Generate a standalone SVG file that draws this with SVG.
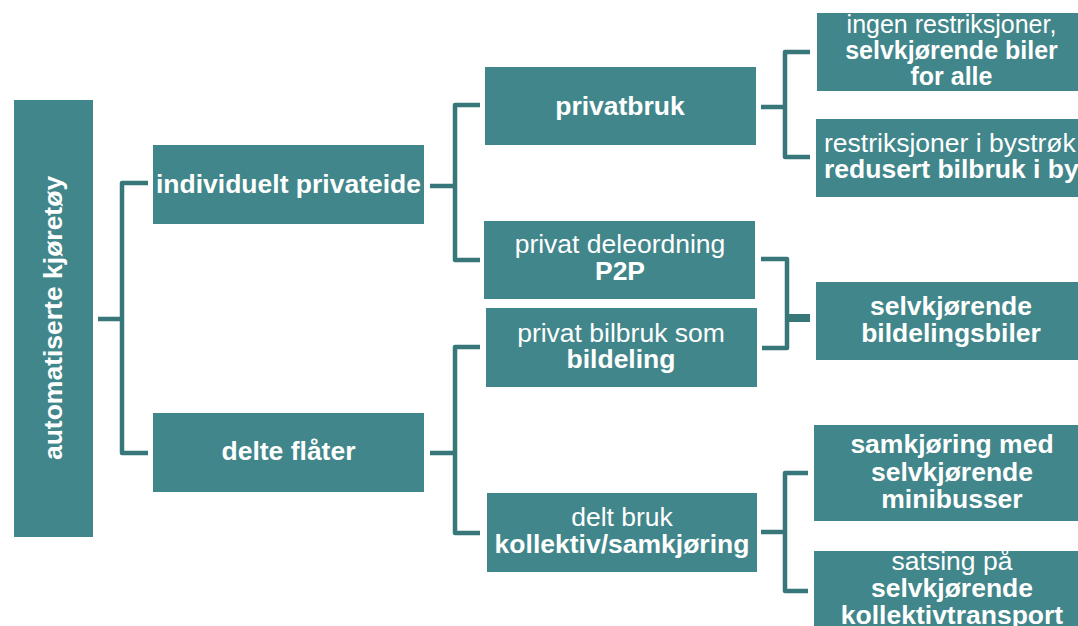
<svg xmlns="http://www.w3.org/2000/svg" width="1078" height="626" viewBox="0 0 1078 626">
<style>
.box{fill:#41868A;}
.t{font-family:"Liberation Sans",Arial,sans-serif;font-size:26.5px;fill:#FFFFFF;text-anchor:middle;}
.s{font-size:25px;}
.b{font-weight:bold;}
.c{fill:none;stroke:#377679;stroke-width:4.5;stroke-linejoin:round;stroke-linecap:butt;}
</style>
<rect width="1078" height="626" fill="#FFFFFF"/>
<g id="connectors">
<path class="c" d="M98,319 H122 M148,183 H122 V453 H148"/>
<path class="c" d="M430,186 H455 M480,105 H455 V260 H480"/>
<path class="c" d="M430,453 H455 M480,347 H455 V533 H480"/>
<path class="c" d="M761,107 H785 M810,52 H785 V157 H810"/>
<path class="c" d="M761,259 H787 V348 H762"/>
<path class="c" d="M787,318 H810" style="stroke-width:8"/>
<path class="c" d="M761,532 H785 M808,473 H785 V591 H808"/>
</g>
<g id="root">
<rect class="box" x="14" y="100" width="79" height="437"/>
<text class="t b" transform="translate(62,318) rotate(-90)">automatiserte kjøretøy</text>
</g>
<g id="individuelt">
<rect class="box" x="153" y="145" width="271" height="79"/>
<text class="t b" x="288.5" y="193">individuelt privateide</text>
</g>
<g id="delte">
<rect class="box" x="153" y="413" width="271" height="79"/>
<text class="t b" x="288.5" y="460">delte flåter</text>
</g>
<g id="privatbruk">
<rect class="box" x="485" y="67" width="271" height="78"/>
<text class="t b" x="620" y="115">privatbruk</text>
</g>
<g id="p2p">
<rect class="box" x="484" y="221" width="271" height="78"/>
<text class="t" x="620" y="253">privat deleordning</text>
<text class="t b" x="620" y="280">P2P</text>
</g>
<g id="bildeling">
<rect class="box" x="486" y="308" width="271" height="79"/>
<text class="t" x="621" y="342">privat bilbruk som</text>
<text class="t b" x="621" y="368">bildeling</text>
</g>
<g id="deltbruk">
<rect class="box" x="487" y="493" width="270" height="79"/>
<text class="t" x="622" y="526">delt bruk</text>
<text class="t b" x="622" y="553">kollektiv/samkjøring</text>
</g>
<g id="ingen">
<rect class="box" x="817" y="13" width="271" height="78"/>
<text class="t s" x="951.5" y="33">ingen restriksjoner,</text>
<text class="t s b" x="951.5" y="59">selvkjørende biler</text>
<text class="t s b" x="951.5" y="85">for alle</text>
</g>
<g id="restriksjoner">
<rect class="box" x="816" y="119" width="272" height="78"/>
<text class="t" x="824" y="152" style="text-anchor:start">restriksjoner i bystrøk</text>
<text class="t b" x="824" y="178" style="text-anchor:start">redusert bilbruk i by</text>
</g>
<g id="bildelingsbiler">
<rect class="box" x="816" y="282" width="272" height="78"/>
<text class="t b" x="951" y="315">selvkjørende</text>
<text class="t b" x="951" y="342">bildelingsbiler</text>
</g>
<g id="minibusser">
<rect class="box" x="814" y="425" width="274" height="96"/>
<text class="t b" x="952" y="453">samkjøring med</text>
<text class="t b" x="952" y="481">selvkjørende</text>
<text class="t b" x="952" y="508">minibusser</text>
</g>
<g id="kollektivtransport">
<rect class="box" x="814" y="551" width="274" height="90"/>
<text class="t" x="952" y="570">satsing på</text>
<text class="t b" x="952" y="597">selvkjørende</text>
<text class="t b" x="952" y="624">kollektivtransport</text>
</g>
</svg>
